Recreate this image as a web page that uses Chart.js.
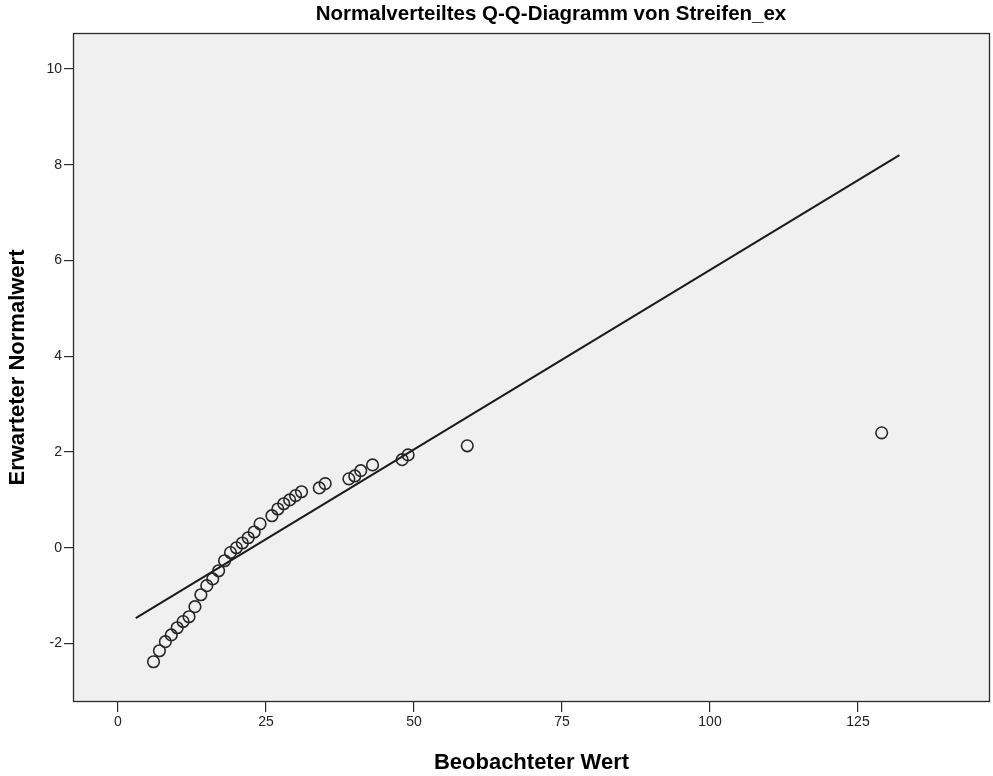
<!DOCTYPE html>
<html>
<head>
<meta charset="utf-8">
<script src="https://cdn.jsdelivr.net/npm/chart.js@4/dist/chart.umd.min.js"></script>
<style>
  html, body { margin: 0; padding: 0; background: #ffffff; overflow: hidden; }
  #wrap { width: 993px; height: 776px; }
</style>
</head>
<body>
<div id="wrap"><canvas id="qq" width="993" height="776"></canvas></div>
<script>
// Observed values and their expected normal quantiles
const observed = [6, 7, 8, 9, 10, 11, 12, 13, 14, 15, 16, 17, 18, 19, 20, 21, 22, 23, 24,
                  26, 27, 28, 29, 30, 31, 34, 35, 39, 40, 41, 43, 48, 49, 59, 129];
const expected = [-2.38, -2.15, -1.96, -1.82, -1.67, -1.54, -1.44, -1.23, -0.98, -0.79, -0.65,
                  -0.48, -0.27, -0.10, 0.00, 0.10, 0.21, 0.33, 0.50,
                  0.67, 0.81, 0.92, 1.00, 1.09, 1.17, 1.25, 1.34, 1.44, 1.50, 1.61, 1.73,
                  1.84, 1.94, 2.13, 2.40];

// Reference line (expected normal value as a function of the observed value)
const refLineX = [3, 132];
const refLineY = [-1.47, 8.20];

// Axis ticks
const xTicks = [0, 25, 50, 75, 100, 125];
const yTicks = [-2, 0, 2, 4, 6, 8, 10];

const titleText = 'Normalverteiltes Q-Q-Diagramm von Streifen_ex';
const xTitle = 'Beobachteter Wert';
const yTitle = 'Erwarteter Normalwert';

const FONT = '"Liberation Sans", Arial, sans-serif';

const pointData = observed.map((v, i) => ({ x: v, y: expected[i] }));
const lineData = refLineX.map((v, i) => ({ x: v, y: refLineY[i] }));

// Plot background, frame and centred title
const framePlugin = {
  id: 'frame',
  beforeDatasetsDraw(chart) {
    const { ctx, chartArea: a } = chart;
    ctx.save();
    ctx.fillStyle = '#f0f0f0';
    ctx.fillRect(a.left, a.top, a.right - a.left, a.bottom - a.top);
    ctx.restore();
  },
  afterDraw(chart) {
    const { ctx, chartArea: a } = chart;
    ctx.save();
    ctx.strokeStyle = '#2a2a2a';
    ctx.lineWidth = 1.3;
    ctx.strokeRect(a.left + 0.5, a.top + 0.5, a.right - a.left - 1, a.bottom - a.top - 1);
    ctx.fillStyle = '#000000';
    ctx.font = 'bold 20.5px ' + FONT;
    ctx.textAlign = 'center';
    ctx.textBaseline = 'middle';
    ctx.fillText(titleText, 551, 14);
    ctx.restore();
  }
};

new Chart(document.getElementById('qq'), {
  type: 'scatter',
  data: {
    datasets: [
      {
        label: 'Beobachtet',
        data: pointData,
        showLine: false,
        pointStyle: 'circle',
        pointRadius: 5.8,
        pointHoverRadius: 5.8,
        pointBorderWidth: 1.6,
        pointBorderColor: '#262626',
        pointBackgroundColor: 'rgba(0,0,0,0)',
        order: 1
      },
      {
        type: 'line',
        label: 'Referenzlinie',
        data: lineData,
        showLine: true,
        borderColor: '#1a1a1a',
        borderWidth: 2,
        pointRadius: 0,
        fill: false,
        order: 2
      }
    ]
  },
  options: {
    responsive: false,
    animation: false,
    devicePixelRatio: 1,
    layout: { autoPadding: false, padding: { top: 33, right: 3, left: 0, bottom: 0 } },
    plugins: {
      legend: { display: false },
      title: { display: false },
      tooltip: { enabled: false }
    },
    scales: {
      x: {
        type: 'linear',
        min: -7.6,
        max: 147.3,
        afterBuildTicks(scale) { scale.ticks = xTicks.map(v => ({ value: v })); },
        afterFit(scale) {
          scale.height = 74;
          scale.paddingLeft = 0;
          scale.paddingRight = 0;
        },
        grid: { display: true, drawOnChartArea: false, drawTicks: true, tickLength: 10, color: '#2a2a2a', lineWidth: 1.2 },
        border: { display: false },
        ticks: {
          padding: 2,
          color: '#222222',
          font: { family: FONT, size: 14 },
          maxRotation: 0,
          callback: v => String(v)
        },
        title: {
          display: true,
          text: xTitle,
          color: '#000000',
          font: { family: FONT, size: 22, weight: 'bold' },
          padding: { top: 0, bottom: 0 }
        }
      },
      y: {
        type: 'linear',
        min: -3.22,
        max: 10.75,
        afterBuildTicks(scale) { scale.ticks = yTicks.map(v => ({ value: v })); },
        afterFit(scale) {
          scale.width = 73;
          scale.paddingTop = 0;
          scale.paddingBottom = 0;
        },
        grid: { display: true, drawOnChartArea: false, drawTicks: true, tickLength: 9, color: '#2a2a2a', lineWidth: 1.2 },
        border: { display: false },
        ticks: {
          padding: 2,
          color: '#222222',
          font: { family: FONT, size: 14 },
          callback: v => String(v)
        },
        title: {
          display: true,
          text: yTitle,
          color: '#000000',
          font: { family: FONT, size: 22, weight: 'bold' },
          padding: { top: 4.8, bottom: 0 }
        }
      }
    }
  },
  plugins: [framePlugin]
});
</script>
</body>
</html>
